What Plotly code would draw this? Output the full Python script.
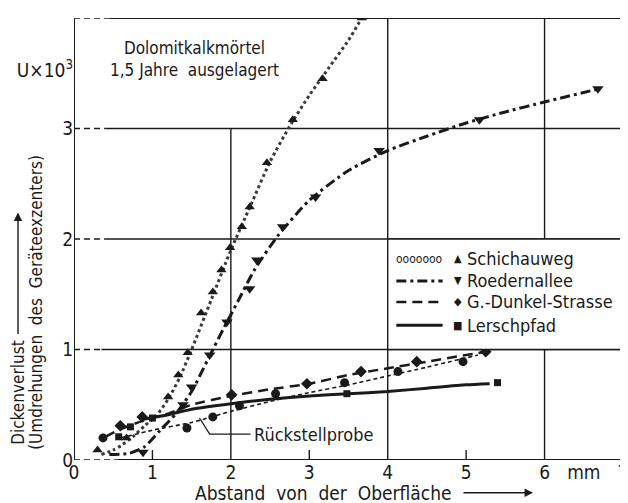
import plotly.graph_objects as go

# --- data (x in mm, y in U x 10^3) ---
schichau_x = [0.3, 0.67, 1.2, 1.33, 1.45, 1.62, 1.77, 1.88, 1.99, 2.14, 2.24, 2.46, 2.79, 3.17, 3.67]
schichau_y = [0.09, 0.2, 0.57, 0.77, 0.97, 1.33, 1.52, 1.72, 1.92, 2.11, 2.29, 2.69, 3.08, 3.45, 4.0]
schichau_curve_x = [0.35, 0.5, 0.6, 0.75, 0.9, 1.05, 1.2, 1.35, 1.5, 1.75, 2.0, 2.25, 2.5, 2.75, 3.0, 3.25, 3.5, 3.67]
schichau_curve_y = [0.05, 0.09, 0.13, 0.21, 0.31, 0.4, 0.55, 0.75, 1.0, 1.45, 1.9, 2.3, 2.7, 3.02, 3.3, 3.55, 3.8, 4.0]

roeder_x = [0.88, 1.39, 1.5, 1.73, 1.95, 2.24, 2.33, 2.66, 3.08, 3.89, 5.17, 6.68]
roeder_y = [0.07, 0.5, 0.66, 0.95, 1.25, 1.55, 1.81, 2.11, 2.38, 2.8, 3.08, 3.36]
roeder_curve_x = [0.45, 0.7, 0.9, 1.1, 1.3, 1.5, 1.7, 1.9, 2.1, 2.3, 2.6, 3.0, 3.5, 4.0, 4.5, 5.0, 5.5, 6.0, 6.7]
roeder_curve_y = [0.05, 0.06, 0.12, 0.27, 0.42, 0.62, 0.9, 1.18, 1.45, 1.72, 2.03, 2.35, 2.62, 2.8, 2.93, 3.05, 3.15, 3.24, 3.36]

dunkel_x = [0.59, 0.87, 2.01, 2.97, 3.66, 4.37, 5.25]
dunkel_y = [0.31, 0.39, 0.59, 0.69, 0.8, 0.89, 0.98]
dunkel_curve_x = [0.4, 0.6, 0.9, 1.2, 1.5, 2.0, 2.5, 3.0, 3.5, 4.0, 4.5, 5.25]
dunkel_curve_y = [0.21, 0.28, 0.36, 0.42, 0.5, 0.58, 0.64, 0.69, 0.77, 0.83, 0.89, 0.98]

lersch_x = [0.57, 0.72, 1.0, 3.48, 5.4]
lersch_y = [0.21, 0.3, 0.38, 0.6, 0.7]
lersch_curve_x = [0.9, 1.2, 1.5, 2.0, 2.5, 3.0, 3.5, 4.0, 4.5, 5.0, 5.3]
lersch_curve_y = [0.37, 0.41, 0.46, 0.51, 0.55, 0.58, 0.6, 0.62, 0.65, 0.68, 0.69]

rueck_x = [0.37, 1.44, 1.77, 2.11, 2.57, 3.45, 4.13, 4.96]
rueck_y = [0.2, 0.29, 0.39, 0.49, 0.6, 0.7, 0.8, 0.89]
rueck_curve_x = [0.6, 1.0, 1.5, 2.0, 2.5, 3.0, 3.5, 4.0, 4.5, 5.15]
rueck_curve_y = [0.2, 0.27, 0.34, 0.44, 0.53, 0.61, 0.68, 0.76, 0.84, 0.95]

x_ticks = [0, 1, 2, 3, 4, 5, 6, 6.5, 7]
x_ticktext = ["0", "1", "2", "3", "4", "5", "6", "mm", "7"]
y_ticks = [0, 1, 2, 3, 3.53, 4]
y_ticktext = ["0", "1", "2", "3", "U×10<sup>3</sup>", "4"]

legend_names = ["Schichauweg", "Roedernallee", "G.-Dunkel-Strasse", "Lerschpfad"]
legend_symbols = ["▲", "▼", "◆", "■"]

FONT = "DejaVu Sans Condensed, Liberation Sans Narrow, Roboto, sans-serif"
INK = "#1a1a1a"

fig = go.Figure()


def curve(x, y, dash, width, color=INK):
    fig.add_trace(go.Scatter(x=x, y=y, mode="lines", line=dict(color=color, dash=dash, width=width, shape="spline", smoothing=0.6),
                             showlegend=False, hoverinfo="skip"))


def points(x, y, symbol, size):
    fig.add_trace(go.Scatter(x=x, y=y, mode="markers", marker=dict(symbol=symbol, size=size, color=INK),
                             showlegend=False))


curve(schichau_curve_x, schichau_curve_y, "dot", 3, "#3a3a3a")
curve(roeder_curve_x, roeder_curve_y, "10px,4px,3px,4px", 3)
curve(dunkel_curve_x, dunkel_curve_y, "10px,6px", 2.5)
curve(lersch_curve_x, lersch_curve_y, "solid", 3)
curve(rueck_curve_x, rueck_curve_y, "4px,3px", 1.6)

points(schichau_x, schichau_y, "triangle-up", 9)
points(roeder_x, roeder_y, "triangle-down", 10)
points(dunkel_x, dunkel_y, "diamond", 9)
points(lersch_x, lersch_y, "square", 7)
points(rueck_x, rueck_y, "circle", 9)

shapes = []
# horizontal grid lines: a short dashed lead-in at the axis, then solid
for yv, lead in [(0, 0.55), (1, 0.35), (2, 0.4), (3, 0.4), (4, 0.45)]:
    shapes.append(dict(type="line", x0=0, x1=lead, y0=yv, y1=yv, layer="below",
                       line=dict(color=INK, width=1.6, dash="6px,4px")))
    shapes.append(dict(type="line", x0=lead, x1=7, y0=yv, y1=yv, layer="below",
                       line=dict(color=INK, width=2 if yv in (0, 4) else 1.4)))
# vertical lines
for xv, top, w in [(0, 4, 2), (2, 3, 1.4), (4, 4, 1.4), (6, 4, 1.4), (7, 4, 2)]:
    shapes.append(dict(type="line", x0=xv, x1=xv, y0=0, y1=top, layer="below", line=dict(color=INK, width=w)))
# small inward ticks on the x axis
for xv in [1, 3, 5]:
    shapes.append(dict(type="line", x0=xv, x1=xv, y0=0, y1=0.09, layer="below", line=dict(color=INK, width=1.4)))

# legend box
shapes.append(dict(type="rect", x0=4, x1=7, y0=1, y1=2, layer="above", fillcolor="white",
                   line=dict(color=INK, width=1.4)))
leg_rows = [1.82, 1.62, 1.43, 1.22]
leg_dash = [None, "10px,4px,3px,4px", "10px,6px", "solid"]
for yv, dsh in zip(leg_rows, leg_dash):
    if dsh:
        shapes.append(dict(type="line", x0=4.11, x1=4.7, y0=yv, y1=yv, layer="above",
                           line=dict(color=INK, width=3 if dsh != "10px,6px" else 2.5, dash=dsh)))

# leader line for Rückstellprobe
shapes.append(dict(type="path", path="M 1.6 0.38 L 1.73 0.235 L 2.25 0.235", layer="above",
                   line=dict(color=INK, width=1.3)))

annotations = []
annotations.append(dict(x=4.41, y=leg_rows[0], xref="x", yref="y", text="ooooooo", showarrow=False,
                        font=dict(family=FONT, size=12, color=INK)))
for yv, sym, name in zip(leg_rows, legend_symbols, legend_names):
    annotations.append(dict(x=4.89, y=yv, xref="x", yref="y", showarrow=False, text=sym,
                            font=dict(family=FONT, size=11, color=INK)))
    annotations.append(dict(x=4.99, y=yv, xref="x", yref="y", xanchor="left", showarrow=False,
                            text=name, font=dict(family=FONT, size=18, color=INK)))

annotations.append(dict(x=1.54, y=3.63, xref="x", yref="y", showarrow=False,
                        text="Dolomitkalkmörtel<br>1,5 Jahre  ausgelagert",
                        font=dict(family=FONT, size=17, color=INK), align="center"))
annotations.append(dict(x=2.27, y=0.235, xref="x", yref="y", xanchor="left", showarrow=False,
                        text="Rückstellprobe", font=dict(family=FONT, size=18, color=INK)))

# axis titles
annotations.append(dict(x=-0.102, y=0.152, xref="paper", yref="paper", xanchor="center", yanchor="middle",
                        textangle=-90, showarrow=False,
                        text="Dickenverlust", font=dict(family=FONT, size=17, color=INK)))
annotations.append(dict(x=-0.102, y=0.56, xref="paper", yref="paper", ax=0, ay=123,
                        text="", showarrow=True, arrowhead=2,
                        arrowsize=1.2, arrowwidth=1.4, arrowcolor=INK))
annotations.append(dict(x=-0.068, y=0.357, xref="paper", yref="paper", xanchor="center", yanchor="middle",
                        textangle=-90, showarrow=False,
                        text="(Umdrehungen  des  Geräteexzenters)", font=dict(family=FONT, size=17, color=INK)))
annotations.append(dict(x=0.454, y=-0.074, xref="paper", yref="paper", xanchor="center", yanchor="middle",
                        showarrow=False,
                        text="Abstand  von  der  Oberfläche", font=dict(family=FONT, size=19, color=INK)))
annotations.append(dict(x=0.836, y=-0.074, xref="paper", yref="paper", ax=-71, ay=0,
                        text="", showarrow=True, arrowhead=2,
                        arrowsize=1.2, arrowwidth=1.4, arrowcolor=INK))

fig.update_layout(
    width=628, height=503,
    margin=dict(l=66, r=13, t=10, b=51),
    paper_bgcolor="white", plot_bgcolor="white",
    font=dict(family=FONT, color=INK),
    shapes=shapes, annotations=annotations,
    xaxis=dict(range=[0, 7], showgrid=False, zeroline=False, showline=False, ticks="",
               tickvals=x_ticks, ticktext=x_ticktext, tickfont=dict(size=19, family=FONT),
               ticklabelstandoff=-1, automargin=False, fixedrange=True),
    yaxis=dict(range=[0, 4], showgrid=False, zeroline=False, showline=False, ticks="",
               tickvals=y_ticks, ticktext=y_ticktext, tickfont=dict(size=19, family=FONT),
               automargin=False, fixedrange=True),
)

fig.write_html("out.html")
